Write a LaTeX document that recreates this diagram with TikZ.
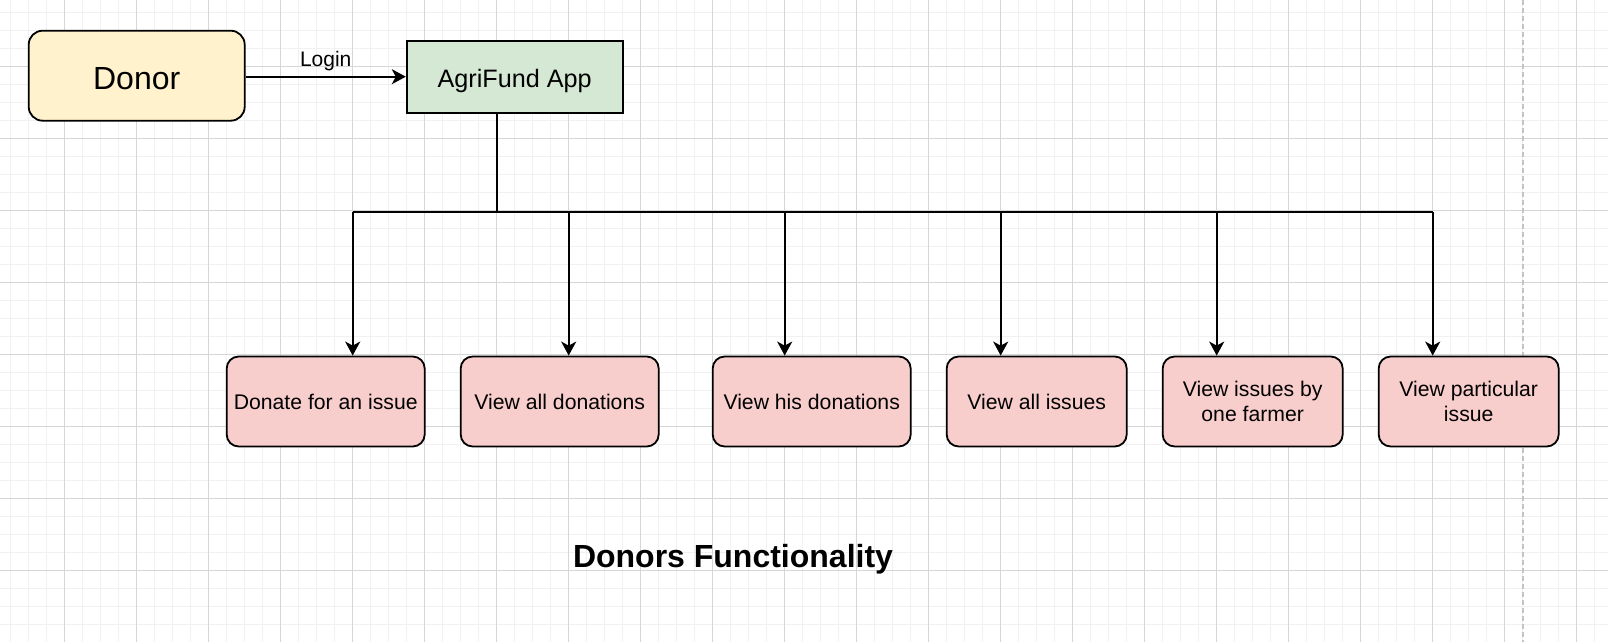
\documentclass[tikz,border=0pt]{standalone}
\usepackage{fontspec}
\setmainfont{Liberation Sans}
\usepackage{xcolor}
\usepackage{tikz}
\usetikzlibrary{arrows.meta,positioning,calc}

\definecolor{donorfill}{HTML}{FFF2CC}
\definecolor{appfill}{HTML}{D5E8D4}
\definecolor{funcfill}{HTML}{F8CECC}
\definecolor{gridminor}{HTML}{F1F1F1}
\definecolor{gridmajor}{HTML}{D6D6D6}
\definecolor{pagebreak}{HTML}{C4C4C4}

\begin{document}
\begin{tikzpicture}[
  x=0.5pt, y=-0.5pt,
  >={Stealth[length=7pt, width=7.5pt, inset=2pt]},
  actor/.style={draw, line width=0.9pt, rounded corners=7pt, fill=donorfill, minimum width=108pt, minimum height=45pt, text height=14.1pt, text depth=0pt, font=\fontsize{16}{19}\selectfont},
  appbox/.style={draw, line width=0.9pt, fill=appfill, minimum width=108pt, minimum height=36pt, text height=11.1pt, text depth=0pt, font=\fontsize{12.6}{15}\selectfont},
  func/.style={draw, line width=0.9pt, rounded corners=6pt, fill=funcfill, minimum height=45pt, align=center, inner sep=1pt, font=\fontsize{10.6}{12.3}\selectfont},
  arr/.style={->, line width=1pt},
  wire/.style={line width=1pt},
]
\useasboundingbox (0,0) rectangle (1608,642);
\fill[white] (0,0) rectangle (1608,642);

% Background grid
\foreach \gx in {10.7,28.7,...,1608} \draw[gridminor, line width=0.5pt] (\gx,0) -- (\gx,642);
\foreach \gy in {12.7,30.7,...,642} \draw[gridminor, line width=0.5pt] (0,\gy) -- (1608,\gy);
\foreach \gx in {64.7,136.7,...,1608} \draw[gridmajor, line width=0.5pt] (\gx,0) -- (\gx,642);
\foreach \gy in {66.7,138.7,...,642} \draw[gridmajor, line width=0.5pt] (0,\gy) -- (1608,\gy);
\draw[pagebreak, line width=0.9pt, dash pattern=on 2.5pt off 1.5pt] (1522.7,0) -- (1522.7,642);

% Donor and app
\node[actor] (donor) at (136.7,75.7) {Donor};
\node[appbox] (app) at (514.7,76.7) {AgriFund App};
\draw[arr] (donor.east |- app) -- node[above, inner sep=0pt, text depth=0pt, yshift=4.5pt, font=\fontsize{10.5}{12}\selectfont] {Login} (app.west);

% Functions
\node[func, minimum width=99pt] (donate)   at (325.7,401.5)  {Donate for an issue};
\node[func, minimum width=99pt] (alldon)   at (559.7,401.5)  {View all donations};
\node[func, minimum width=99pt] (hisdon)   at (811.7,401.5)  {View his donations};
\node[func, minimum width=90pt] (alliss)   at (1036.7,401.5) {View all issues};
\node[func, minimum width=90pt] (byfarmer) at (1252.7,401.5) {View issues by\\one farmer};
\node[func, minimum width=90pt] (oneiss)   at (1468.7,401.5) {View particular\\issue};

% Bus from the app
\coordinate (split) at (496.7,212.3);
\coordinate (b1) at (352.7,212.3);
\coordinate (b2) at (568.7,212.3);
\coordinate (b3) at (784.7,212.3);
\coordinate (b4) at (1000.7,212.3);
\coordinate (b5) at (1216.7,212.3);
\coordinate (b6) at (1432.7,212.3);

\draw[wire] (app.south -| split) -- (split);
\draw[wire] (b1) -- (b6);
\draw[arr] (b1) -- (b1 |- donate.north);
\draw[arr] (b2) -- (b2 |- alldon.north);
\draw[arr] (b3) -- (b3 |- hisdon.north);
\draw[arr] (b4) -- (b4 |- alliss.north);
\draw[arr] (b5) -- (b5 |- byfarmer.north);
\draw[arr] (b6) -- (b6 |- oneiss.north);

% Title
\node[font=\fontsize{16}{19}\selectfont\bfseries, text height=14.1pt, text depth=0pt] (title) at (733,553) {Donors Functionality};

\end{tikzpicture}
\end{document}
